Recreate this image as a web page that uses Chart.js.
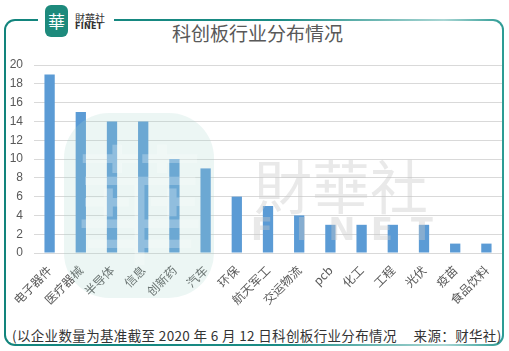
<!DOCTYPE html>
<html>
<head>
<meta charset="utf-8">
<script src="https://cdn.jsdelivr.net/npm/chart.js@4"></script>
<style>
  html,body{margin:0;padding:0;background:#fff;}
  body{width:509px;height:351px;position:relative;overflow:hidden;font-family:"Noto Sans CJK SC","Noto Sans",sans-serif;}
  .frame{position:absolute;left:4px;top:19px;width:500px;height:327px;border-radius:11px;
    background:linear-gradient(to right,#12847c 0%,#1a8c85 55%,#a9d6d4 88%,#2b9a93 100%);}
  .frame .in{position:absolute;left:2px;top:2px;right:2px;bottom:2px;border-radius:9px;background:#fff;}
  .gap{position:absolute;left:38px;top:14px;width:76px;height:12px;background:#fff;}
  .logo{position:absolute;left:45px;top:5px;width:23px;height:32px;border-radius:6px;background:#1d8a7c;
    color:#fff;font-size:17px;line-height:32px;text-align:center;font-family:"Noto Sans CJK TC",serif;}
  .lt1{position:absolute;left:75px;top:12px;font-size:10px;line-height:11px;color:#333;font-family:"Noto Sans CJK TC",sans-serif;}
  .lt2{position:absolute;left:75px;top:23px;font-size:8px;line-height:8px;color:#333;font-weight:bold;font-family:"DejaVu Sans",sans-serif;letter-spacing:0.3px;}
  .title{position:absolute;left:0;width:515px;top:20px;text-align:center;font-size:19px;line-height:26px;color:#595959;}
  .foot{position:absolute;left:12px;top:327px;font-size:13.5px;line-height:16px;color:#333;white-space:nowrap;letter-spacing:0.35px;}
  .box{position:absolute;left:0;top:45px;width:509px;height:262px;}
</style>
</head>
<body>
<div class="frame"><div class="in"></div></div>
<div class="gap"></div>
<div class="logo">華</div>
<div class="lt1">財華社</div>
<div class="lt2">FINET</div>
<div class="title">科创板行业分布情况</div>
<div class="box"><canvas id="c"></canvas></div>
<div class="foot">(以企业数量为基准截至 2020 年 6 月 12 日科创板行业分布情况&nbsp;&nbsp;&nbsp;&nbsp;&nbsp;来源：财华社)</div>
<script>
const CATS = ['电子器件','医疗器械','半导体','信息','创新药','汽车','环保','航天军工','交运物流','pcb','化工','工程','光伏','疫苗','食品饮料'];
const VALS = [19,15,14,14,10,9,6,5,4,3,3,3,3,1,1];
const Y_MIN = 0, Y_MAX = 20, Y_STEP = 2;

// 浮水印（背景大字）
const watermark = {
  id:'watermark',
  afterDatasetsDraw(ch){
    const {ctx} = ch;
    ctx.save();
    ctx.fillStyle='rgba(170,215,205,0.22)';
    ctx.beginPath();
    ctx.roundRect(64,68,150,185,45);
    ctx.fill();
    ctx.fillStyle='rgba(255,255,255,0.25)';
    ctx.font='130px "Noto Sans CJK TC"';
    ctx.textAlign='center'; ctx.textBaseline='middle';
    ctx.fillText('華',140,160);
    ctx.fillStyle='rgba(200,200,200,0.40)';
    ctx.font='58px "Noto Sans CJK TC"';
    ctx.fillText('財華社',341,142);
    ctx.font='bold 32px "DejaVu Sans"';
    ['F','I','N','E','T'].forEach((c,i)=>ctx.fillText(c,262+i*40,187));
    ctx.restore();
  }
};

new Chart(document.getElementById('c'),{
  type:'bar',
  data:{labels:CATS, datasets:[{data:VALS, backgroundColor:'#5b9bd5', barPercentage:0.33, categoryPercentage:1}]},
  options:{
    responsive:true, maintainAspectRatio:false, animation:false,
    layout:{padding:{top:20,right:7,left:0,bottom:0}},
    plugins:{legend:{display:false}, tooltip:{enabled:false}},
    scales:{
      x:{
        grid:{display:false}, border:{display:false},
        ticks:{color:'#595959', font:{size:12, family:'"Noto Sans CJK SC"'}, maxRotation:45, minRotation:45, autoSkip:false, padding:2},
        afterFit:s=>{s.height=54;}
      },
      y:{
        min:Y_MIN, max:Y_MAX,
        grid:{color:'#d9d9d9', drawTicks:false}, border:{display:false},
        ticks:{stepSize:Y_STEP, color:'#595959', font:{size:12, family:'"Liberation Sans"'}, padding:11},
        afterFit:s=>{s.width=34;}
      }
    }
  },
  plugins:[watermark]
});
</script>
</body>
</html>
